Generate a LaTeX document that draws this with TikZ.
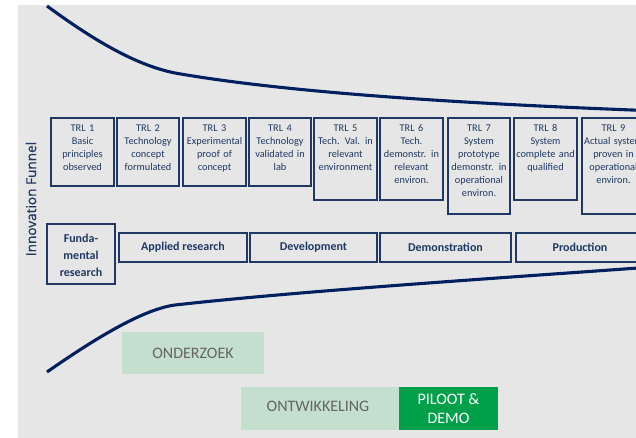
\documentclass[tikz,border=0pt]{standalone}
\usepackage{fontspec}
\setmainfont{Carlito}
\newfontfamily\opensans[FakeBold=0.7]{Open Sans}
\definecolor{navy}{RGB}{0,32,96}
\definecolor{boxnavy}{RGB}{31,56,100}
\definecolor{bggrey}{RGB}{230,230,230}
\definecolor{lightgreen}{RGB}{197,223,207}
\definecolor{darkgreen}{RGB}{0,160,75}
\definecolor{greytext}{RGB}{100,100,100}
\tikzset{
  trlbox/.style={draw=boxnavy, line width=1.4pt},
  trltext/.style={anchor=north, inner sep=0pt, text width=62pt, align=center, text=boxnavy,
    font=\fontsize{10.3}{13}\selectfont},
  phasebox/.style={draw=boxnavy, line width=1.4pt},
  phasetext/.style={inner sep=0pt, align=center, text=boxnavy, font=\bfseries\fontsize{12}{17}\selectfont},
  funnel/.style={draw=navy, line width=3.1pt},
  lgbox/.style={draw=none, inner sep=0pt, text=greytext, font=\fontsize{16}{18}\selectfont, align=center},
  dgbox/.style={draw=none, inner sep=0pt, text=white, font=\fontsize{16}{19}\selectfont, align=center}
}
\begin{document}
\begin{tikzpicture}[x=1pt,y=-1pt]
\useasboundingbox (0,0) rectangle (636,438);
\fill[white] (0,0) rectangle (636,438);
\clip (0,0) rectangle (636,438);
\fill[bggrey] (18,5) rectangle (640,440);

% funnel curves
\draw[funnel] (47,6) .. controls (100,45) and (140,66) .. (175,73)
  .. controls (300,95) and (500,105) .. (645,110.5);
\draw[funnel] (47,372) .. controls (100,335) and (145,309) .. (175,305)
  .. controls (300,291) and (500,278) .. (645,267.5);

% Innovation Funnel label
\node[rotate=90, inner sep=0pt, text=boxnavy, font=\opensans\fontsize{13.6}{15}\selectfont] (lab) at (31,199) {Innovation Funnel};

% TRL boxes
\foreach \i/\xa/\xb/\yb/\txt in {
  1/51/114/186/{TRL 1\\Basic\\principles\\observed},
  2/117/179/186/{TRL 2\\Technology\\concept\\formulated},
  3/183/246/186/{TRL 3\\Experimental\\proof of\\concept},
  4/249/311/186/{TRL 4\\Technology\\validated in\\lab},
  5/314/377/200/{TRL 5\\Tech. Val. in\\relevant\\environment},
  6/380/443/200/{TRL 6\\Tech.\\demonstr. in\\relevant\\environ.},
  7/448/510/214/{TRL 7\\System\\prototype\\demonstr. in\\operational\\environ.},
  8/514/577/200/{TRL 8\\System\\complete and\\qualified},
  9/582/645/214/{TRL 9\\Actual system\\proven in\\operational\\environ.}}{
  \draw[trlbox] (\xa,118) rectangle (\xb,\yb);
  \node[trltext] (trl\i) at ({(\xa+\xb)/2},124.5) {\txt};
}

% phase boxes
\draw[phasebox] (47,224) rectangle (115,284);
\node[phasetext] (fund) at (81,255) {Funda-\\mental\\research};
\draw[phasebox] (119,233) rectangle (247,262);
\node[phasetext] (appl) at (183,247.5) {Applied research};
\draw[phasebox] (250,233) rectangle (377,262);
\node[phasetext] (dev) at (313.5,247.5) {Development};
\draw[phasebox] (380,233) rectangle (511,262);
\node[phasetext] (demo) at (445.5,247.5) {Demonstration};
\draw[phasebox] (516,233) rectangle (650,262);
\node[phasetext] (prod) at (580,247.5) {Production};

% green boxes
\fill[lightgreen] (122,332) rectangle (264,374);
\node[lgbox] (ond) at (193,353) {ONDERZOEK};
\fill[lightgreen] (241,387) rectangle (399,430);
\node[lgbox] (ont) at (318,406) {ONTWIKKELING};
\fill[darkgreen] (399,387) rectangle (498,430);
\node[dgbox] (pil) at (448.5,408.5) {PILOOT \&\\DEMO};
\end{tikzpicture}
\end{document}
